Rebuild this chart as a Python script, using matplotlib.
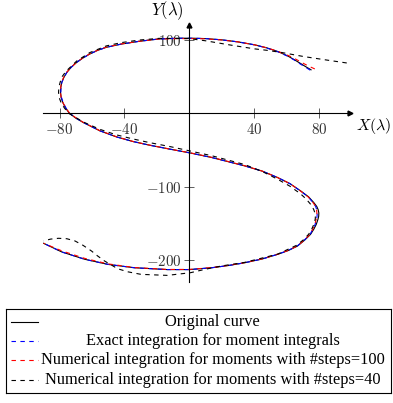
import matplotlib
matplotlib.use("Agg")
import matplotlib.pyplot as plt

plt.rcParams['mathtext.fontset'] = 'cm'

# points, (X, Y) from the top-right end to the bottom-left end
ORIG_X = [75, 71.5, 68.6, 64.5, 60.5, 54.4, 47.5, 40.2, 30, 20, 10, 2, -6, -18.7, -30.9, -42,
          -51.2, -56.5, -61.3, -65.5, -69.4, -72.8, -75.5, -77.3, -78.6, -79.2, -79.4, -79,
          -78, -76.3, -74, -70, -65.4, -55.2, -45.1, -35, -24.8, -12, 0, 13.8,
          34.1, 45, 54.4, 62, 68.6, 73.5, 76.7, 78.5, 79.4, 79.8, 79.7, 79.2, 78.2, 76.7, 74.7,
          71, 66.6, 61, 54.4, 45, 34.1, 24, 13.8,
          0, -13.6, -33.9, -50.2, -64.4, -78.6, -89.8]
ORIG_Y = [59, 63.5, 67.5, 73, 78, 84, 89, 93, 97, 99.8, 101.5, 102, 102, 101, 97.8, 94,
          89.6, 85.5, 80.6, 75.2, 69.2, 62.5, 55.5, 48.7, 41.9, 35, 28.2, 21.3,
          14.6, 7.2, 0, -6.8, -12.7, -24, -32.2, -38.5, -43.5, -49, -54, -60.4,
          -71.8, -79, -87.7, -96, -105.9, -114, -121.8, -127, -131.5, -136, -140.5, -145, -151.5, -158, -165,
          -173, -181, -187, -192.2, -198.5, -203.7, -207.5, -210.5,
          -213, -213, -210.5, -205.9, -199, -189, -177.2]

EXACT_X = [74.5, 71.2, 68.3, 64.3, 60.3, 54.2, 47.3, 40.2, 30, 20, 10, 2, -6, -18.7, -30.9, -42,
           -51.2, -56.5, -61.3, -65.5, -69.4, -72.8, -75.5, -77.3, -78.6, -79.1, -79.2, -78.8,
           -77.8, -76.1, -73.8, -69.8, -65.4, -55.2, -45.1, -35, -24.8, -12, 0, 13.8,
           34.1, 45, 54.4, 62, 68.4, 73.2, 76.2, 77.8, 78.5, 78.8, 78.7, 78.3, 77.5, 76.1, 74.4,
           70.8, 66.4, 60.8, 54.4, 45, 34.1, 24, 13.8,
           0, -13.6, -33.9, -50.2, -64.4, -78.6, -89.8]
EXACT_Y = [58.5, 63, 67, 72.8, 77.8, 83.8, 89, 93, 97, 99.8, 101.5, 102, 102, 101, 97.8, 94,
           89.6, 85.5, 80.6, 75.2, 69.2, 62.5, 55.5, 48.7, 41.9, 35, 28.2, 21.3,
           14.6, 7.2, 0, -6.8, -12.7, -24, -32.2, -38.5, -43.5, -49, -54, -60.4,
           -71.8, -79, -87.7, -96, -105.9, -114, -121.8, -127, -131.5, -136, -140.5, -145, -151.5, -158, -165,
           -173, -181, -187, -192.2, -198.5, -203.7, -207.5, -210.5,
           -213, -213, -210.5, -205.9, -199, -189, -177.2]

STEPS100_X = [77.3, 73.5, 70.5, 66, 61.5, 54.8, 47.6, 40.2, 30, 20, 10, 2, -6, -18.7, -30.9, -42,
              -51.2, -56.5, -61.3, -65.5, -69.4, -72.8, -75.6, -77.5, -78.8, -79.3, -79.4, -79,
              -78, -76.2, -73.8, -69.8, -65.4, -55.2, -45.1, -35, -24.8, -12, 0, 13.8,
              34.1, 45, 54.4, 62, 68.4, 73.2, 76.2, 77.8, 78.4, 78.6, 78.5, 78.1, 77.3, 76, 74.4,
              70.8, 66.4, 60.8, 54.4, 45, 34.1, 24, 13.8,
              0, -13.6, -33.9, -50.2, -64.4, -78.6, -89.8]
STEPS100_Y = [60.2, 64, 67.5, 73, 78, 84, 89, 93, 97, 99.6, 101.2, 101.5, 101.5, 101, 97.8, 94.2,
              89.8, 85.7, 80.8, 75.4, 69.4, 62.5, 55.5, 48.7, 41.9, 35, 28.2, 21.3,
              14.6, 7.2, 0, -6.6, -12.5, -23.8, -32, -38.4, -43.4, -49, -53.8, -60.2,
              -71.6, -79, -87.7, -96, -105.9, -114, -121.8, -127, -131.5, -136, -140.5, -145, -151.5, -158, -165,
              -173, -181, -187, -192.2, -198.3, -203.5, -207.3, -210.3,
              -212.8, -212.8, -210.2, -205.2, -197.8, -187.5, -177.2]

STEPS40_X = [97, 84, 70.6, 57, 48, 40.2, 25.9, 10, 0, -18.7, -30.9, -42, -51.2, -61.3, -69.4,
             -76, -78.3, -79.5, -80.4, -80.6, -80.2, -79, -77, -74.5, -65.4, -55.2, -45.1, -35,
             -24.8, -12, 0, 13.8, 34.1, 45, 54.4, 62, 68.6, 72, 74.7, 76.6, 77.7, 77.6, 77, 75.5,
             73.5, 70, 66, 54.4, 34.1, 20, 10,
             0.6, -13.6, -29.8, -38, -44.1, -52.2, -56.5, -60.3, -65.5, -70.5, -75.5, -80.6, -85.5, -89.8]
STEPS40_Y = [68.3, 72.5, 77, 82.5, 85.5, 87.5, 92.5, 98.5, 101.5, 101.8, 99.5, 96, 91.5, 82.5, 71,
             57, 50, 43, 35.5, 28.2, 21, 14, 7, 0, -12, -22, -29.5, -35,
             -40, -45.5, -51.3, -58, -70, -79.5, -90, -99.5, -110, -117, -124, -131, -137.7, -144, -150, -157.5,
             -165, -173, -180, -192, -203.2, -208, -212.5,
             -217.3, -220.9, -219.5, -216, -211.9, -201.4, -194.5, -187.7, -180, -174, -171, -170.4, -171.5, -174]

XTICKS = [-80, -40, 40, 80]
YTICKS = [-200, -100, 100]

LABELS = ['Original curve',
          'Exact integration for moment integrals',
          'Numerical integration for moments with #steps=100',
          'Numerical integration for moments with #steps=40']
COLORS = ['black', '#0000ff', '#ff0000', 'black']
STYLES = ['-', (0, (4, 4)), (0, (4, 4)), (0, (4, 4))]

fig = plt.figure(figsize=(3.93, 4.03), dpi=100)
ax = fig.add_axes([43.3 / 393, 1 - 281.7 / 403, (350 - 43.3) / 393, (281.7 - 25) / 403])

series = [(ORIG_X, ORIG_Y), (EXACT_X, EXACT_Y), (STEPS100_X, STEPS100_Y), (STEPS40_X, STEPS40_Y)]
for (xs, ys), c, ls in zip(series, COLORS, STYLES):
    ax.plot(xs, ys, color=c, linestyle=ls, linewidth=0.8)

ax.set_xlim(-90, 99)
ax.set_ylim(-229.5, 120)

for side in ['top', 'right']:
    ax.spines[side].set_visible(False)
for side in ['left', 'bottom']:
    ax.spines[side].set_position(('data', 0))
    ax.spines[side].set_linewidth(0.8)

ax.plot(1, 0, '>k', markersize=3.5, transform=ax.get_yaxis_transform(), clip_on=False)
ax.plot(0, 1, '^k', markersize=3.5, transform=ax.get_xaxis_transform(), clip_on=False)

ax.set_xticks(XTICKS)
ax.set_xticklabels([f'${t}$' for t in XTICKS])
ax.set_yticks(YTICKS)
ax.set_yticklabels([f'${t}$' for t in YTICKS])
ax.tick_params(direction='inout', length=7, width=0.6, color='#444444',
               labelsize=10.8, labelcolor='#333333')
ax.tick_params(axis='x', pad=3)
ax.tick_params(axis='y', pad=2)
ax.patch.set_visible(False)

fig.text(167 / 393, 1 - 10.5 / 403, r'$Y(\lambda)$', fontsize=12, ha='center', va='center')
# the reference clips this label at the edge; keep it just inside
fig.text(391 / 393, 1 - 126 / 403, r'$X(\lambda)$', fontsize=11.5, ha='right', va='center')

# legend drawn by hand so the entries are centred like pgfplots
lg = fig.add_axes([5.5 / 393, 1 - 392.5 / 403, 385.5 / 393, 83.5 / 403])
lg.set_xlim(0, 385.5)
lg.set_ylim(83.5, 0)
lg.set_xticks([])
lg.set_yticks([])
for sp in lg.spines.values():
    sp.set_linewidth(0.8)
rows = [12.7, 32.0, 51.2, 70.7]
for label, c, ls, y in zip(LABELS, COLORS, STYLES, rows):
    lg.plot([5.5, 32.5], [y, y], color=c, linestyle=ls, linewidth=0.8)
    lg.text(207, y, label, ha='center', va='center', fontsize=11.8,
            family='Liberation Serif')

fig.savefig('out.png', dpi=100)
